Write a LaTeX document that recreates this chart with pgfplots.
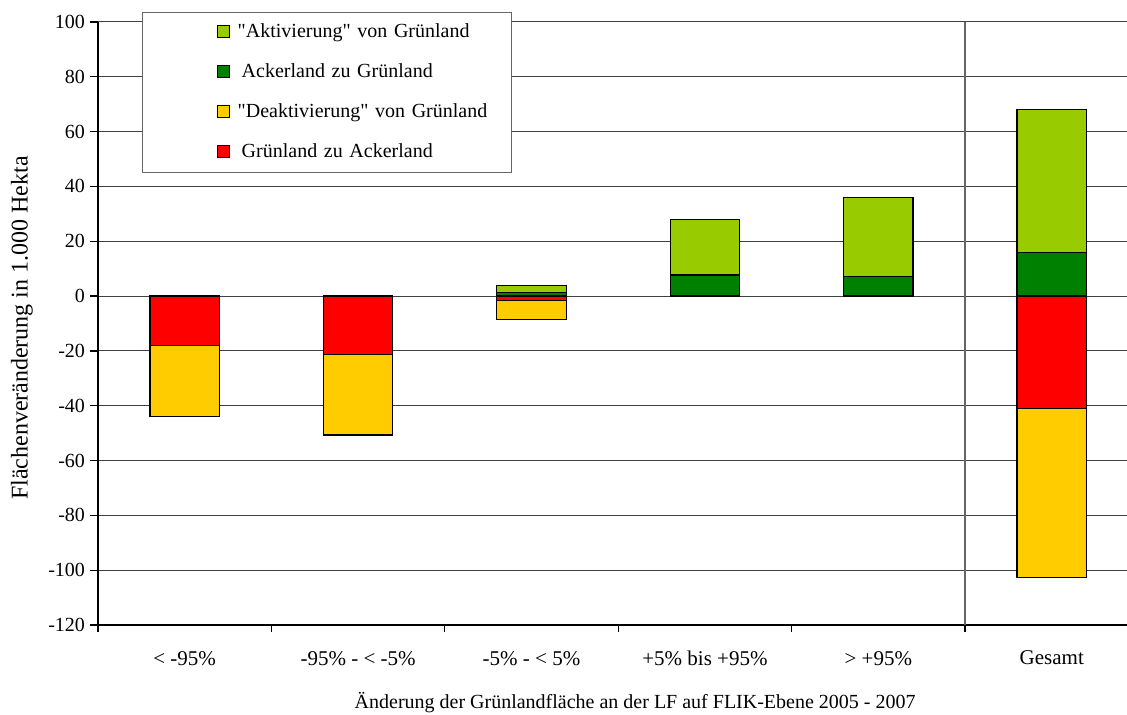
\documentclass[border=0pt]{standalone}
\usepackage{fontspec}
\setmainfont{Liberation Serif}[Ligatures=TeXOff]
\usepackage{pgfplots}
\pgfplotsset{compat=1.18}
\definecolor{lgreen}{HTML}{99CC00}
\definecolor{dgreen}{HTML}{008000}
\definecolor{cyellow}{HTML}{FFCC00}
\definecolor{cred}{HTML}{FF0000}
\begin{document}
\begin{tikzpicture}
\begin{axis}[
  at={(0,0)}, anchor=south west,
  scale only axis, width=514.5pt, height=301.5pt,
  xmin=0, xmax=5.934, ymin=-120, ymax=100,
  ytick={-120,-100,...,100},
  xtick={0.5,1.5,2.5,3.5,4.5,5.5},
  xticklabels={{< -95\%},{-95\% - < -5\%},{-5\% - < 5\%},{+5\% bis +95\%},{> +95\%},{Gesamt}},
  minor xtick={0,1,2,3,4,5},
  major x tick style={draw=none},
  minor x tick style={black, line width=0.6pt},
  minor tick length=3.5pt,
  major tick length=4pt,
  tick align=outside,
  axis x line*=bottom, axis y line*=left,
  axis line style={-, black, line width=0.7pt},
  ytick style={black, line width=0.6pt},
  ymajorgrids, grid style={black!75, line width=0.5pt},
  /pgf/number format/assume math mode=true,
  yticklabel style={xshift=1pt},
  xticklabel style={yshift=-5.5pt, font=\fontsize{10.5}{12}\selectfont},
  ylabel={Flächenveränderung in 1.000 Hekta},
  ylabel style={at={(axis description cs:-0.0739,0.4925)}, anchor=center, font=\fontsize{12}{14}\selectfont},
  xlabel={Änderung der Grünlandfläche an der LF auf FLIK-Ebene 2005 - 2007},
  xlabel style={at={(axis description cs:0.522,-0.129)}, anchor=center},
  ybar, bar width=0.4,
  legend style={at={(axis description cs:0.0428,1.0166)}, anchor=north west,
    draw=black!60, line width=0.6pt, inner xsep=0pt, inner ysep=0pt,
    nodes={text width=133pt, align=left, text height=7pt, text depth=2pt, inner ysep=5.5pt, inner xsep=4pt},
    /tikz/every odd column/.style={column sep=0pt}},
  legend image code/.code={\path (-37pt,0pt); \draw[#1, draw=black, line width=0.5pt] (0pt,-2.5pt) rectangle (6pt,3.5pt);},
]
\draw[black!60, line width=0.7pt] (axis cs:5,-120) -- (axis cs:5,100);
% bar tops (cumulative)
\addplot[fill=lgreen, draw=black, line width=0.6pt, bar shift=0pt] coordinates {(2.5,4) (3.5,28) (4.5,36) (5.5,68)};
\addlegendentry{"Aktivierung" von Grünland}
\addplot[fill=dgreen, draw=black, line width=0.6pt, bar shift=0pt] coordinates {(2.5,1.2) (3.5,7.7) (4.5,7.2) (5.5,16)};
\addlegendentry{\hspace{2pt}Ackerland zu Grünland}
\addplot[fill=cyellow, draw=black, line width=0.6pt, bar shift=0pt] coordinates {(0.5,-44) (1.5,-50.7) (2.5,-8.4) (5.5,-102.8)};
\addlegendentry{"Deaktivierung" von Grünland}
\addplot[fill=cred, draw=black, line width=0.6pt, bar shift=0pt] coordinates {(0.5,-18) (1.5,-21.4) (2.5,-1.7) (5.5,-41)};
\addlegendentry{\hspace{2pt}Grünland zu Ackerland}
\end{axis}
\pgfresetboundingbox
\path (-49pt,-45pt) rectangle (514.5pt,312.5pt);
\end{tikzpicture}
\end{document}
